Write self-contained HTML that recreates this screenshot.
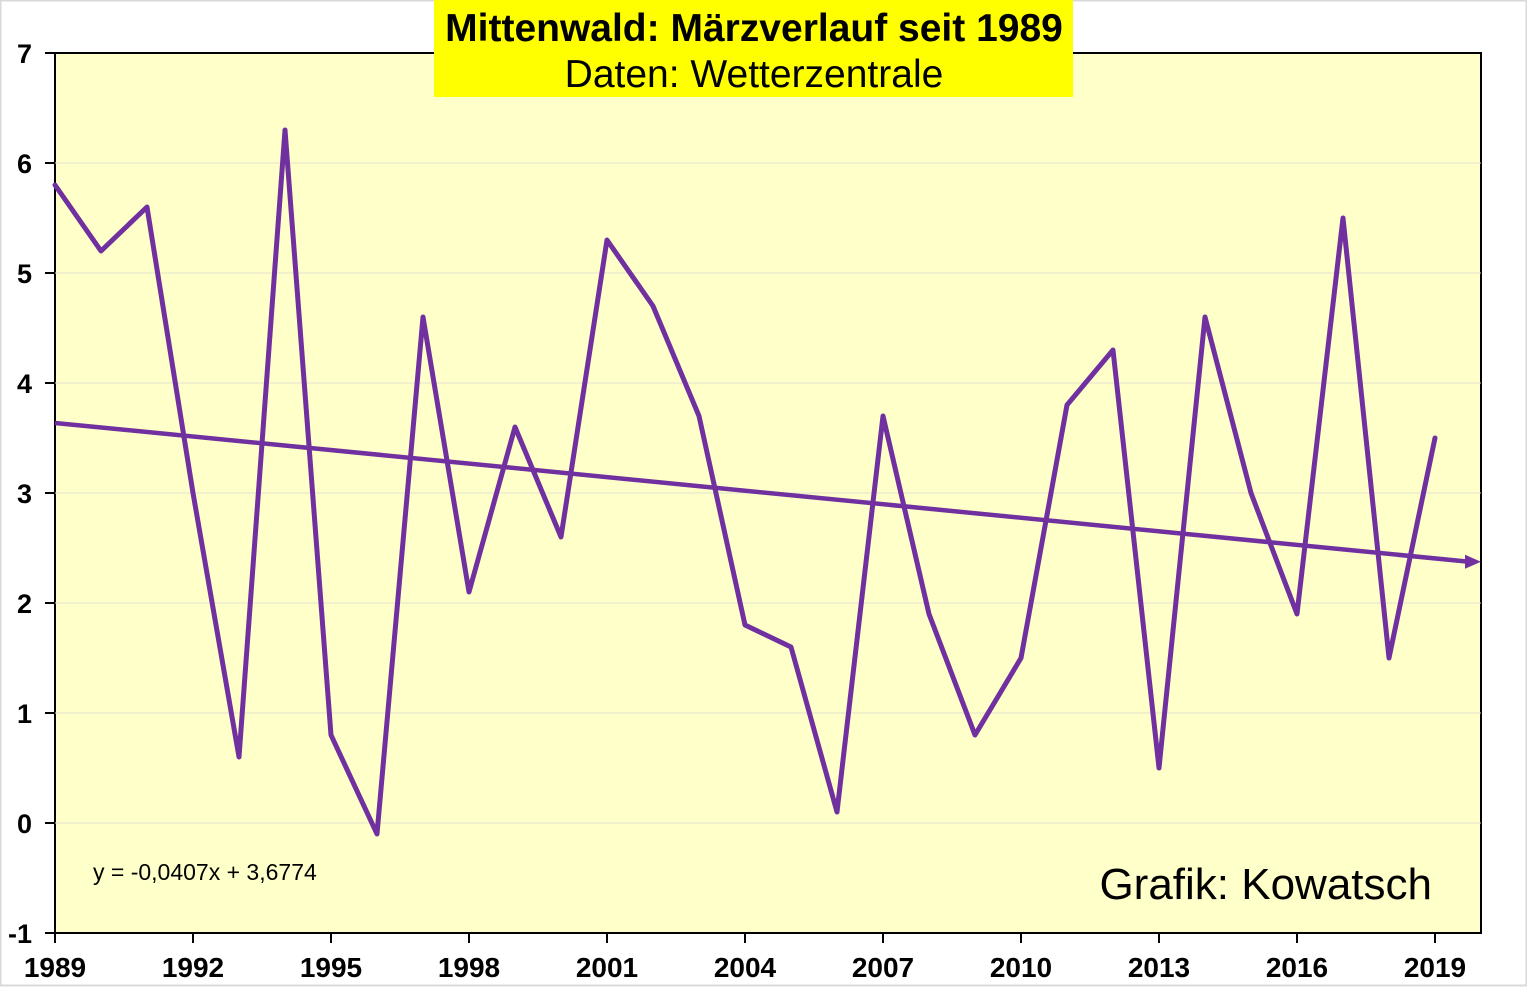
<!DOCTYPE html>
<html><head><meta charset="utf-8"><style>
html,body{margin:0;padding:0;background:#fff;}
svg{display:block;font-family:"Liberation Sans",Arial,sans-serif;}
</style></head><body>
<svg id="chart" width="1527" height="988" viewBox="0 0 1527 988" xmlns="http://www.w3.org/2000/svg">
<rect x="0.5" y="0.5" width="1526" height="985" fill="#fff" stroke="#d9d9d9" stroke-width="2"/>
<rect x="55" y="53" width="1426" height="880" fill="#FFFFC9" stroke="#000" stroke-width="2"/>
<g id="grid"></g>
<g id="axes"></g>
<g id="series"></g>
<rect x="434" y="0" width="639" height="97" fill="#FFFF00"/>
<text x="754" y="41" text-anchor="middle" font-size="39" font-weight="bold">Mittenwald: Märzverlauf seit 1989</text>
<text x="754" y="87" text-anchor="middle" font-size="39">Daten: Wetterzentrale</text>
<text x="93" y="880" font-size="23">y = -0,0407x + 3,6774</text>
<text x="1432" y="899" text-anchor="end" font-size="44">Grafik: Kowatsch</text>
</svg>
<script>
const years = [1989,1990,1991,1992,1993,1994,1995,1996,1997,1998,1999,2000,2001,2002,2003,2004,2005,2006,2007,2008,2009,2010,2011,2012,2013,2014,2015,2016,2017,2018,2019];
const values = [5.8,5.2,5.6,3.0,0.6,6.3,0.8,-0.1,4.6,2.1,3.6,2.6,5.3,4.7,3.7,1.8,1.6,0.1,3.7,1.9,0.8,1.5,3.8,4.3,0.5,4.6,3.0,1.9,5.5,1.5,3.5];
const yTicks = [-1,0,1,2,3,4,5,6,7];
const xTicks = [1989,1992,1995,1998,2001,2004,2007,2010,2013,2016,2019];
const trendSlope = -0.0407;
const trendIntercept = 3.6774;

const NS="http://www.w3.org/2000/svg";
const X0=55,X1=1481,Y0=53,Y1=933;
const xMin=1989,xMax=2020,yMin=-1,yMax=7;
const xs=v=>X0+(v-xMin)/(xMax-xMin)*(X1-X0);
const ys=v=>Y1-(v-yMin)/(yMax-yMin)*(Y1-Y0);
function mk(tag,attrs,parent){const e=document.createElementNS(NS,tag);for(const k in attrs)e.setAttribute(k,attrs[k]);document.getElementById(parent).appendChild(e);return e;}
yTicks.forEach(t=>{
  if(t>yMin&&t<yMax){
    const g=mk('line',{x1:X0,x2:X1,y1:ys(t),y2:ys(t),stroke:'#e0e0d0','stroke-width':1},'grid');
    
    
  }
  const tk=mk('line',{x1:X0-10,x2:X0,y1:ys(t),y2:ys(t),stroke:'#000','stroke-width':2},'axes');
  
  
  const l=mk('text',{x:32,y:ys(t)+10,'text-anchor':'end','font-size':27,'font-weight':'bold'},'axes');
  l.textContent=t;
  
  
});
xTicks.forEach(t=>{
  const tk=mk('line',{x1:xs(t),x2:xs(t),y1:Y1,y2:Y1+10,stroke:'#000','stroke-width':2},'axes');
  
  
  const l=mk('text',{x:xs(t),y:977,'text-anchor':'middle','font-size':28,'font-weight':'bold'},'axes');
  l.textContent=t;
  
  
});
const pts=years.map((y,i)=>xs(y)+','+ys(values[i])).join(' ');
const pl=mk('polyline',{points:pts,fill:'none',stroke:'#7030A0','stroke-width':5,'stroke-linejoin':'round','stroke-linecap':'round'},'series');


const tEnd=xMax-xMin+1;
const ty1=ys(trendSlope*1+trendIntercept), ty2=ys(trendSlope*tEnd+trendIntercept);
const tl=mk('line',{x1:xs(xMin),y1:ty1,x2:xs(xMax)-12,y2:ty2,stroke:'#7030A0','stroke-width':4.5},'series');


const ax=xs(xMax),ay=ty2;
const ar=mk('polygon',{points:`${ax},${ay} ${ax-16},${ay-7} ${ax-16},${ay+7}`,fill:'#7030A0'},'series');


</script>
</body></html>
